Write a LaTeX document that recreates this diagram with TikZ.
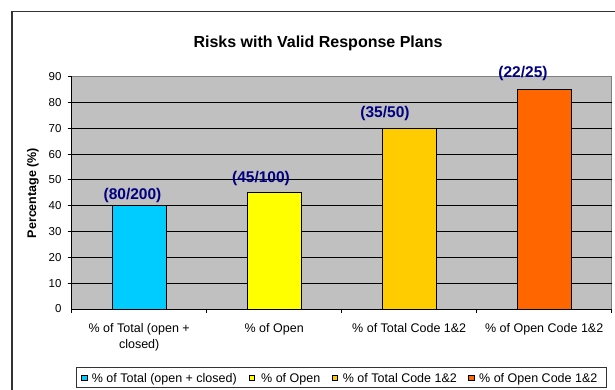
\documentclass[tikz,border=0pt]{standalone}
\usepackage{fontspec}
\setmainfont{Liberation Sans}
\usetikzlibrary{positioning}
\definecolor{barblue}{HTML}{00CCFF}
\definecolor{baryellow}{HTML}{FFFF00}
\definecolor{bargold}{HTML}{FFCC00}
\definecolor{barorange}{HTML}{FF6600}
\definecolor{plotgray}{HTML}{C0C0C0}
\definecolor{labelnavy}{HTML}{000080}

\begin{document}
\begin{tikzpicture}[x=1pt, y=1pt,
  barbox/.style={draw=black, line width=0.8pt},
  gridline/.style={draw=black, line width=0.8pt},
  ticklabel/.style={anchor=east, inner sep=0pt, font=\fontsize{11.5}{13}\selectfont},
  catlabel/.style={anchor=base, inner sep=0pt, font=\fontsize{12.5}{15}\selectfont},
  datalabel/.style={inner sep=0pt, text=labelnavy, font=\fontsize{15.5}{18}\selectfont\bfseries},
  keybox/.style={draw=black, line width=0.6pt, minimum size=5.3pt, inner sep=0pt},
  keytext/.style={anchor=base west, inner sep=0pt, font=\fontsize{12.5}{15}\selectfont}]
\def\barwidth{54}
\def\plottop{232.3}
\clip (0,0) rectangle (615,390);
\fill[white] (0,0) rectangle (615,390);
\draw[line width=1.2pt, black!80] (12,-10) rectangle (630,378.3);

\node[anchor=base, inner sep=0pt, font=\fontsize{16}{19}\selectfont\bfseries] (title) at (318,342.7) {Risks with Valid Response Plans};
\node[rotate=90, inner sep=0pt, font=\fontsize{12.5}{15}\selectfont\bfseries] (ylabel) at (33,197) {Percentage (\%)};

\begin{scope}[shift={(71.7,81)}] % PLOT AREA
\fill[plotgray] (0,0) rectangle (540,\plottop);
\draw[gray, line width=0.8pt] (0,\plottop) -- (540,\plottop) -- (540,0);

% grid lines with their ticks
\draw[gridline] (-4,25.8) -- (540,25.8);
\draw[gridline] (-4,51.6) -- (540,51.6);
\draw[gridline] (-4,77.4) -- (540,77.4);
\draw[gridline] (-4,103.2) -- (540,103.2);
\draw[gridline] (-4,129.1) -- (540,129.1);
\draw[gridline] (-4,154.9) -- (540,154.9);
\draw[gridline] (-4,180.7) -- (540,180.7);
\draw[gridline] (-4,206.5) -- (540,206.5);
\draw[gridline] (-4,\plottop) -- (0,\plottop);

\node[ticklabel] (t0) at (-10,0) {0};
\node[ticklabel] (t10) at (-10,25.8) {10};
\node[ticklabel] (t20) at (-10,51.6) {20};
\node[ticklabel] (t30) at (-10,77.4) {30};
\node[ticklabel] (t40) at (-10,103.2) {40};
\node[ticklabel] (t50) at (-10,129.1) {50};
\node[ticklabel] (t60) at (-10,154.9) {60};
\node[ticklabel] (t70) at (-10,180.7) {70};
\node[ticklabel] (t80) at (-10,206.5) {80};
\node[ticklabel] (t90) at (-10,\plottop) {90};

\draw[barbox, fill=barblue] (40.5,0) rectangle +(\barwidth,103.2); % FIRST BAR
\draw[barbox, fill=baryellow] (175.5,0) rectangle +(\barwidth,116.1); % SECOND BAR
\draw[barbox, fill=bargold] (310.5,0) rectangle +(\barwidth,180.7); % THIRD BAR
\draw[barbox, fill=barorange] (445.5,0) rectangle +(\barwidth,219.4); % FOURTH BAR

\node[datalabel] (d1) at (60.8,114) {(80/200)};
\node[datalabel] (d2) at (189.3,131) {(45/100)};
\node[datalabel] (d3) at (313.3,196) {(35/50)};
\node[datalabel] (d4) at (451.3,236) {(22/25)};

% axes
\draw[black, line width=0.8pt] (0,0) -- (0,\plottop);
\draw[black, line width=0.8pt] (0,0) -- (540,0);
\draw[black, line width=0.8pt] (0,0) -- (0,-4);
\draw[black, line width=0.8pt] (135,0) -- (135,-4);
\draw[black, line width=0.8pt] (270,0) -- (270,-4);
\draw[black, line width=0.8pt] (405,0) -- (405,-4);
\draw[black, line width=0.8pt] (540,0) -- (540,-4);

\node[catlabel] (c1) at (67.5,-23.5) {\% of Total (open +};
\node[catlabel] (c1b) at (67.5,-39.5) {closed)};
\node[catlabel] (c2) at (202.5,-23.5) {\% of Open};
\node[catlabel] (c3) at (337.5,-23.5) {\% of Total Code 1\&2};
\node[catlabel] (c4) at (472.5,-23.5) {\% of Open Code 1\&2};
\end{scope}

% LEGEND
\node[draw=black!80, line width=0.6pt, anchor=north west, minimum width=530pt, minimum height=20.3pt, inner sep=0pt] (legend) at (75.7,23.3) {};
\node[keybox, fill=barblue] (k1) at (84.3,12.5) {};
\node[keybox, fill=baryellow] (k2) at (252.1,12.5) {};
\node[keybox, fill=bargold] (k3) at (334.5,12.5) {};
\node[keybox, fill=barorange] (k4) at (471.2,12.5) {};
\node[keytext] (l1) at (91.7,7.8) {\% of Total (open + closed)};
\node[keytext] (l2) at (261,7.8) {\% of Open};
\node[keytext] (l3) at (342.7,7.8) {\% of Total Code 1\&2};
\node[keytext] (l4) at (479,7.8) {\% of Open Code 1\&2};
\end{tikzpicture}
\end{document}
